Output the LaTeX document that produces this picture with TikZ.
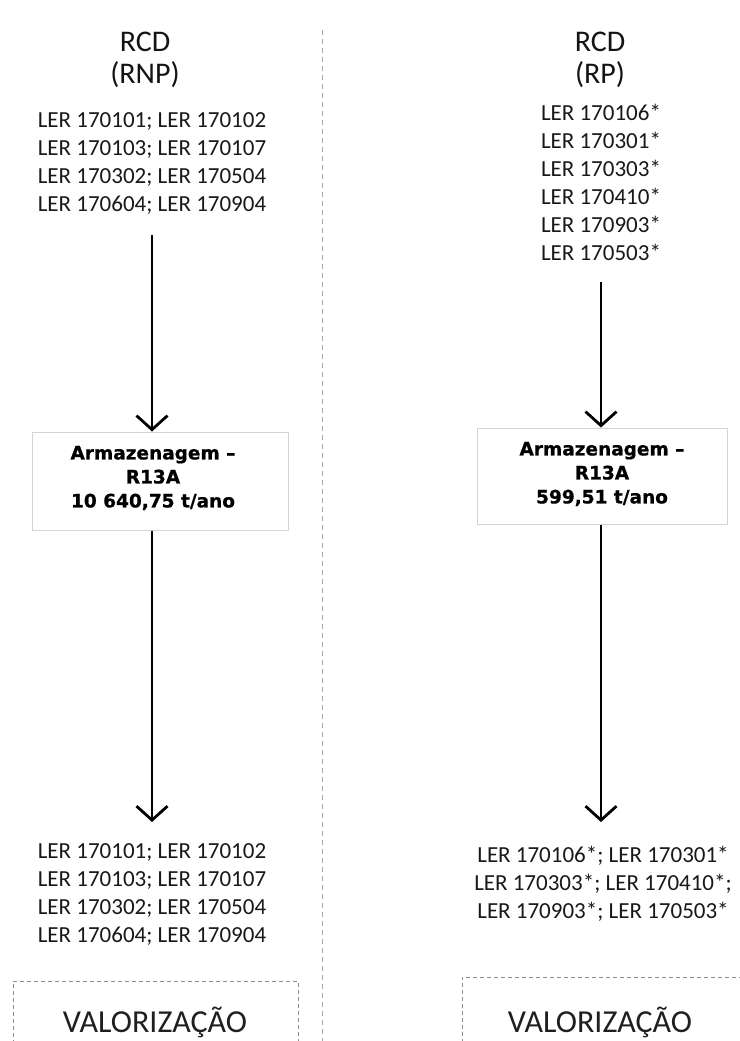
\documentclass[tikz,border=0pt]{standalone}
\usepackage{fontspec}
\setmainfont{Carlito}
\newfontfamily\boxfont[BoldFeatures={FakeBold=0.8}]{DejaVu Sans}
\usetikzlibrary{arrows.meta}
\definecolor{sepgray}{HTML}{A8A8A8}
\definecolor{boxgray}{HTML}{D4D4D4}
\definecolor{valgray}{HTML}{8C8C8C}
\begin{document}
\begin{tikzpicture}[x=1pt,y=-1pt,
  head/.style={font=\fontsize{30}{32}\selectfont, align=center, inner sep=0pt, text=black!92},
  ler/.style={font=\fontsize{23}{28}\selectfont, align=center, inner sep=0pt, text=black!90},
  storebox/.style={draw=boxgray, line width=1pt, inner sep=0pt},
  storetxt/.style={font=\boxfont\bfseries\fontsize{18.5}{24}\selectfont, align=center, inner sep=0pt},
  valbox/.style={draw=valgray, dashed, dash pattern=on 4pt off 3pt, line width=0.9pt, inner sep=0pt},
  valtxt/.style={font=\fontsize{32}{36}\selectfont, inner sep=0pt, text=black!88},
  flow/.style={line width=2.8pt, -{Straight Barb[length=14pt,width=31pt,line width=2.8pt]}}
]
\useasboundingbox (0,0) rectangle (739,1041);
\fill[white] (0,0) rectangle (739,1041);
% separator
\coordinate (sepT) at (322,30);
\coordinate (sepB) at (322,1041);
\draw[sepgray, line width=1pt, dash pattern=on 5pt off 4pt] (sepT) -- (sepB);

% left column
\node[head] (hL) at (145,60) {RCD\\(RNP)};
\node[ler] (lerL) at (152,164) {LER 170101; LER 170102\\LER 170103; LER 170107\\LER 170302; LER 170504\\LER 170604; LER 170904};
\node[storebox, minimum width=256pt, minimum height=98pt] (boxL) at (160,481) {};
\node[storetxt] (boxLt) at (153,478) {Armazenagem –\\R13A\\10 640,75 t/ano};
\node[ler] (outL) at (152,894) {LER 170101; LER 170102\\LER 170103; LER 170107\\LER 170302; LER 170504\\LER 170604; LER 170904};
\node[valbox, minimum width=285pt, minimum height=120pt] (valL) at (155.5,1041) {};
\node[valtxt] (valLt) at (155,1022) {VALORIZAÇÃO};

\coordinate (a1s) at (152,235);
\coordinate (a2e) at (152,822);
\draw[flow] (a1s) -- (a1s |- boxL.north);
\draw[flow] (a1s |- boxL.south) -- (a2e);

% right column
\node[head] (hR) at (600,60) {RCD\\(RP)};
\node[ler] (lerR) at (601,182) {LER 170106*\\LER 170301*\\LER 170303*\\LER 170410*\\LER 170903*\\LER 170503*};
\node[storebox, minimum width=250pt, minimum height=96pt] (boxR) at (602,476) {};
\node[storetxt] (boxRt) at (602,474) {Armazenagem –\\R13A\\599,51 t/ano};
\node[ler] (outR) at (603,884) {LER 170106*; LER 170301*\\LER 170303*; LER 170410*;\\LER 170903*; LER 170503*};
\node[valbox, minimum width=290pt, minimum height=128pt] (valR) at (607,1041) {};
\node[valtxt] (valRt) at (600,1022) {VALORIZAÇÃO};

\coordinate (b1s) at (601,282);
\coordinate (b2e) at (601,822);
\draw[flow] (b1s) -- (b1s |- boxR.north);
\draw[flow] (b1s |- boxR.south) -- (b2e);
\end{tikzpicture}
\end{document}
